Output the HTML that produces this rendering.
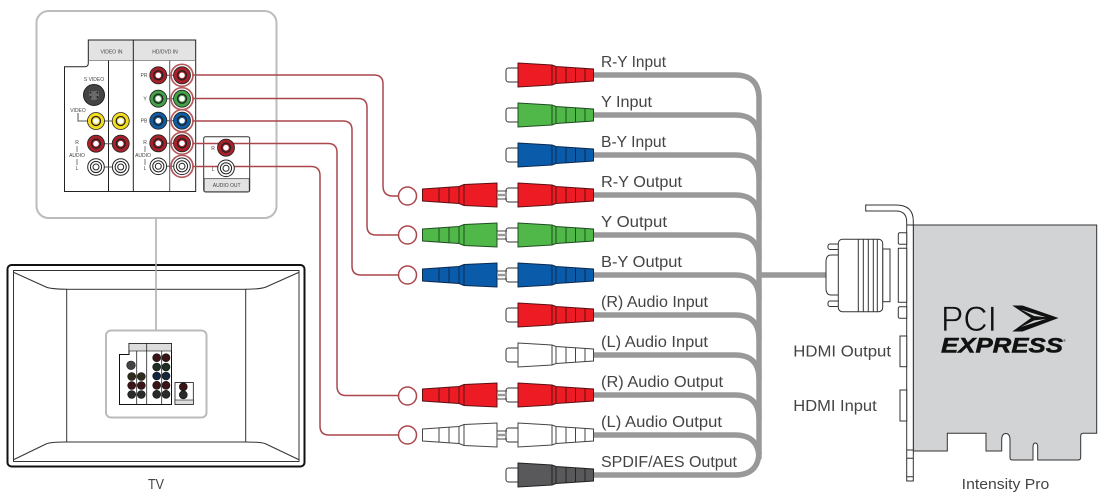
<!DOCTYPE html>
<html><head><meta charset="utf-8"><style>
html,body{margin:0;padding:0;background:#fff}
svg{display:block}
text{font-family:"Liberation Sans",sans-serif}
.l{font-size:16px;fill:#444}
.s{font-size:5px;fill:#444}
</style></head><body>
<svg width="1106" height="504" viewBox="0 0 1106 504" xmlns="http://www.w3.org/2000/svg">
<defs>
<g id="rp">
<rect x="506" y="-7" width="14" height="14" rx="2.500" fill="#fff" stroke="#333" stroke-width="1"/>
<path d="M518 -12L552 -10L556 -8.500L593.500 -6V6L556 8.500L552 10L518 12Z"/>
<path d="M552 -10V10M556 -8.500V8.500M566 -7.800V7.800M575.500 -7V7M585 -6.500V6.500" fill="none"/>
</g>
<g id="lp">
<path d="M422.500 -6L459 -8.500L464 -10.500L497 -12V12L464 10.500L459 8.500L422.500 6Z"/>
<path d="M439 -7V7M449 -7.500V7.500M459 -8.500V8.500M464 -10.500V10.500" fill="none"/>
<path d="M497 -4H507M497 4H507" stroke="#444" fill="none"/>
<path d="M497 0H507" stroke="#999" stroke-width="2.500" fill="none"/>
</g>
<g id="cc"><circle r="8.500" stroke="#222" stroke-width=".8"/><circle r="4.500" fill="none" stroke="#222" stroke-width="1.300"/><circle r="2.800" fill="#fff"/></g>
<g id="cw"><circle r="8.300" fill="#fff" stroke="#222" stroke-width="1"/><circle r="5.600" fill="#fff" stroke="#222" stroke-width="1"/><circle r="3" fill="#fff" stroke="#222" stroke-width="1"/></g>
</defs>

<!-- TV -->
<rect x="7.500" y="265" width="297" height="201.500" rx="4" fill="#fff" stroke="#111" stroke-width="2"/>
<rect x="13.500" y="270.500" width="285.500" height="191" fill="#fff" stroke="#333" stroke-width="1"/>
<rect x="66.700" y="289.300" width="179" height="152.700" fill="#fff" stroke="#333" stroke-width="1"/>
<path d="M14 272.500L46 287Q50 289 66.700 289.300M298.500 272.500L266 287Q262 289 245.700 289.300M14 459.500L46 444Q50 442 66.700 442M298.500 459.500L266 444Q262 442 245.700 442" fill="none" stroke="#333" stroke-width="1"/>
<line x1="156" y1="218" x2="156" y2="331" stroke="#aaa" stroke-width="1.500"/>
<rect x="106" y="330.500" width="100.500" height="87" rx="5" fill="#fff" stroke="#bbb" stroke-width="2"/>

<!-- mini panel -->
<path d="M119.500 404.500V354.500H129V343.500H171.500V404.500Z" fill="#fff" stroke="#111" stroke-width="1"/>
<rect x="129" y="343.500" width="42.500" height="7.500" fill="#ddd" stroke="#111" stroke-width=".6"/>
<path d="M136.700 351V404.500M146.700 343.500V404.500M161.700 351V404.500" stroke="#222" stroke-width=".8"/>
<g stroke="#111" stroke-width=".6">
<circle cx="131" cy="365.300" r="4.300" fill="#444"/>
<circle cx="131.700" cy="376.500" r="4" fill="#2f2c1c"/><circle cx="141.300" cy="376.500" r="4" fill="#2f2c1c"/>
<circle cx="131.700" cy="385.500" r="4" fill="#3a1416"/><circle cx="141.300" cy="385.500" r="4" fill="#3a1416"/>
<circle cx="131.700" cy="394.500" r="4" fill="#2a2a2a"/><circle cx="141.300" cy="394.500" r="4" fill="#2a2a2a"/>
<circle cx="156.700" cy="357.700" r="4" fill="#3a1416"/><circle cx="166" cy="357.700" r="4" fill="#3a1416"/>
<circle cx="156.700" cy="367" r="4" fill="#1e2e22"/><circle cx="166" cy="367" r="4" fill="#1e2e22"/>
<circle cx="156.700" cy="376" r="4" fill="#14263e"/><circle cx="166" cy="376" r="4" fill="#14263e"/>
<circle cx="156.700" cy="385.300" r="4" fill="#3a1416"/><circle cx="166" cy="385.300" r="4" fill="#3a1416"/>
<circle cx="156.700" cy="394.300" r="4" fill="#2a2a2a"/><circle cx="166" cy="394.300" r="4" fill="#2a2a2a"/>
</g>
<rect x="175" y="382.500" width="18.300" height="22" fill="#fff" stroke="#111" stroke-width=".8"/>
<rect x="175" y="400" width="18.300" height="4.500" fill="#ddd" stroke="#111" stroke-width=".6"/>
<circle cx="183.300" cy="386.800" r="4" fill="#3a1416" stroke="#111" stroke-width=".6"/>
<circle cx="183.300" cy="394.800" r="4" fill="#2a2a2a" stroke="#111" stroke-width=".6"/>

<text x="156" y="489" text-anchor="middle" font-size="15" fill="#444" textLength="16" lengthAdjust="spacingAndGlyphs">TV</text>

<!-- large panel -->
<rect x="36.500" y="11" width="240" height="207" rx="12" fill="#fff" stroke="#bcbcbc" stroke-width="2"/>
<path d="M64.500 191.500V66.700H88.300V40H195.700V191.500Z" fill="#fff"/>
<rect x="88.300" y="40" width="107.400" height="20.500" fill="#e3e3e3"/>
<path d="M64.500 191.500V66.700H85Q88.300 66.700 88.300 63V40H195.700V191.500Z" fill="none" stroke="#222" stroke-width="1"/>
<path d="M88.300 60.500H195.700" stroke="#777" stroke-width=".8"/>
<path d="M108.500 60.500V191.500M133.300 40V191.500" stroke="#222" stroke-width="1"/>
<path d="M169.700 60.500V191.500" stroke="#555" stroke-width="1"/>
<path d="M64.500 191.500H195.700" stroke="#222" stroke-width="1"/>
<text class="s" x="111.500" y="53.500" text-anchor="middle">VIDEO IN</text>
<text class="s" x="165" y="53.500" text-anchor="middle">HD/DVD IN</text>

<rect x="203.700" y="136.700" width="46" height="55.300" rx="2" fill="#fff" stroke="#333" stroke-width="1"/>
<rect x="204.200" y="178.700" width="45" height="13" fill="#e3e3e3" stroke="#333" stroke-width=".7"/>
<text class="s" x="226.700" y="187" text-anchor="middle">AUDIO OUT</text>

<!-- wiring between sockets -->
<path d="M96 121H120.700M96 143.700H120.700M96 167H120.700M158.300 75.300H182M158.300 98.700H182M158.300 120.700H182M158.300 143.300H182M158.300 166.300H182M78 113V121H96" stroke="#555" stroke-width="1" fill="none"/>

<!-- sockets -->
<circle cx="94" cy="95" r="10.500" fill="#444" stroke="#222"/>
<path d="M89 91H99V97L96 100H92L89 97Z" fill="#6a6a6a"/>
<circle cx="90.500" cy="92.500" r="1" fill="#222"/><circle cx="97.500" cy="92.500" r="1" fill="#222"/><circle cx="90.500" cy="97" r="1" fill="#222"/><circle cx="97.500" cy="97" r="1" fill="#222"/>
<use href="#cc" x="96" y="121" fill="#f4dd1e"/><use href="#cc" x="120.700" y="121" fill="#f4dd1e"/>
<use href="#cc" x="96" y="143.700" fill="#a8202a"/><use href="#cc" x="120.700" y="143.700" fill="#a8202a"/>
<use href="#cw" x="96" y="167"/><use href="#cw" x="120.700" y="167"/>
<use href="#cc" x="158.300" y="75.300" fill="#a8202a"/><use href="#cc" x="182" y="75.300" fill="#a8202a"/>
<use href="#cc" x="158.300" y="98.700" fill="#45a04a"/><use href="#cc" x="182" y="98.700" fill="#45a04a"/>
<use href="#cc" x="158.300" y="120.700" fill="#0e5ca3"/><use href="#cc" x="182" y="120.700" fill="#0e5ca3"/>
<use href="#cc" x="158.300" y="143.300" fill="#a8202a"/><use href="#cc" x="182" y="143.300" fill="#a8202a"/>
<use href="#cw" x="158.300" y="166.300"/><use href="#cw" x="182" y="166.300"/>

<g fill="none" stroke="#b4595c" stroke-width="1.700">
<circle cx="182" cy="75.300" r="11"/><circle cx="182" cy="98.700" r="11"/><circle cx="182" cy="120.700" r="11"/><circle cx="182" cy="143.300" r="11"/><circle cx="182" cy="166.300" r="11"/>
</g>

<!-- red routes -->
<g fill="none" stroke="#a9474b" stroke-width="1.500">
<path d="M193 75H374Q383 75 383 84V186Q383 196 393 196H399"/>
<path d="M193 98.500H358Q367 98.500 367 107.500V226Q367 235 376 235H398.500"/>
<path d="M193 121H343Q352 121 352 130V266Q352 275 361 275H398.500"/>
<path d="M193 143.500H328Q337 143.500 337 152.500V386Q337 395.500 346 395.500H398.500"/>
<path d="M193 166.500H311Q320 166.500 320 175.500V426Q320 435 329 435H398.500"/>
<circle cx="407.500" cy="196" r="9" fill="#fff"/><circle cx="407.500" cy="235" r="9" fill="#fff"/><circle cx="407.500" cy="275" r="9" fill="#fff"/><circle cx="407.500" cy="396" r="9" fill="#fff"/><circle cx="407.500" cy="435" r="9" fill="#fff"/>
</g>

<use href="#cc" x="226" y="147.700" fill="#a8202a"/>
<use href="#cw" x="226" y="168.300"/>
<text class="s" x="213" y="150" text-anchor="middle">R</text>
<text class="s" x="213" y="171" text-anchor="middle">L</text>
<g class="s" style="font-size:5px" fill="#444" text-anchor="middle">
<text x="94" y="81">S VIDEO</text><text x="78" y="112">VIDEO</text>
<text x="77" y="144">R</text><text x="77" y="157">AUDIO</text><text x="77" y="170">L</text>
<text x="144" y="77">PR</text><text x="145" y="100.500">Y</text><text x="144" y="122.500">PB</text>
<text x="145" y="144">R</text><text x="143" y="157">AUDIO</text><text x="145" y="170">L</text>
</g>
<path d="M77 146V152M77 159V165M145 146V152M145 159V165" stroke="#444" stroke-width=".7"/>

<!-- cables -->
<g fill="none" stroke="#999" stroke-width="5.500">
<path d="M594 75H735Q759 75 759 99V455"/>
<path d="M594 115H735Q759 115 759 139"/>
<path d="M594 155H735Q759 155 759 179"/>
<path d="M594 195H735Q759 195 759 219"/>
<path d="M594 235H735Q759 235 759 259"/>
<path d="M594 275H735Q759 275 759 299"/>
<path d="M594 315H735Q759 315 759 339"/>
<path d="M594 355H735Q759 355 759 379"/>
<path d="M594 395H735Q759 395 759 419"/>
<path d="M594 435H735Q759 435 759 459"/>
<path d="M594 475H735Q759 475 759 451"/>
<path d="M759 275H828"/>
</g>

<!-- plugs -->
<use href="#rp" y="75" fill="#ed1c24" stroke="#5c1014"/>
<use href="#rp" y="115" fill="#4fb848" stroke="#1f4d22"/>
<use href="#rp" y="155" fill="#0a5cab" stroke="#0b2a50"/>
<use href="#rp" y="195" fill="#ed1c24" stroke="#5c1014"/>
<use href="#rp" y="235" fill="#4fb848" stroke="#1f4d22"/>
<use href="#rp" y="275" fill="#0a5cab" stroke="#0b2a50"/>
<use href="#rp" y="315" fill="#ed1c24" stroke="#5c1014"/>
<use href="#rp" y="355" fill="#fff" stroke="#444"/>
<use href="#rp" y="395" fill="#ed1c24" stroke="#5c1014"/>
<use href="#rp" y="435" fill="#fff" stroke="#444"/>
<use href="#rp" y="475" fill="#59595b" stroke="#222"/>
<use href="#lp" y="195" fill="#ed1c24" stroke="#5c1014"/>
<use href="#lp" y="235" fill="#4fb848" stroke="#1f4d22"/>
<use href="#lp" y="275" fill="#0a5cab" stroke="#0b2a50"/>
<use href="#lp" y="395" fill="#ed1c24" stroke="#5c1014"/>
<use href="#lp" y="435" fill="#fff" stroke="#444"/>

<!-- labels -->
<text class="l" x="601" y="67" textLength="65" lengthAdjust="spacingAndGlyphs">R-Y Input</text>
<text class="l" x="601" y="107" textLength="51" lengthAdjust="spacingAndGlyphs">Y Input</text>
<text class="l" x="601" y="147" textLength="65" lengthAdjust="spacingAndGlyphs">B-Y Input</text>
<text class="l" x="601" y="187" textLength="81" lengthAdjust="spacingAndGlyphs">R-Y Output</text>
<text class="l" x="601" y="227" textLength="66" lengthAdjust="spacingAndGlyphs">Y Output</text>
<text class="l" x="601" y="267" textLength="81" lengthAdjust="spacingAndGlyphs">B-Y Output</text>
<text class="l" x="601" y="307" textLength="107" lengthAdjust="spacingAndGlyphs">(R) Audio Input</text>
<text class="l" x="601" y="347" textLength="107" lengthAdjust="spacingAndGlyphs">(L) Audio Input</text>
<text class="l" x="601" y="387" textLength="122" lengthAdjust="spacingAndGlyphs">(R) Audio Output</text>
<text class="l" x="601" y="427" textLength="121" lengthAdjust="spacingAndGlyphs">(L) Audio Output</text>
<text class="l" x="601" y="467" textLength="136" lengthAdjust="spacingAndGlyphs">SPDIF/AES Output</text>
<text class="l" x="793.300" y="356.700" textLength="97.700" lengthAdjust="spacingAndGlyphs">HDMI Output</text>
<text class="l" x="793.300" y="411" textLength="83.400" lengthAdjust="spacingAndGlyphs">HDMI Input</text>
<text x="961.700" y="489" font-size="15" fill="#444" textLength="87.600" lengthAdjust="spacingAndGlyphs">Intensity Pro</text>

<!-- card -->
<path d="M913.300 225H1096.700V433.300H1083Q1080.700 433.300 1080.700 436V457.500Q1080.700 460 1078 460H1037.700V447Q1037.700 443 1035.300 443Q1033 443 1033 447V460H1012.500Q1010 460 1010 457.500V440Q1010 433.500 1005.800 433.500Q1001.700 433.500 1001.700 440V451H986V433.300H947.300V451H913.300Z" fill="#d1d3d4" stroke="#333" stroke-width="1"/>
<path d="M865.700 205H896Q913.300 205 913.300 221V481H906.700V222Q906.700 211 896 211H865.700Z" fill="#fff" stroke="#333" stroke-width="1"/>
<path d="M906.700 225H913.300M906.700 450H913.300M906.700 458.300H913.300M906.700 476.700H913.300" stroke="#333" stroke-width="1"/>
<g fill="#fff" stroke="#333" stroke-width="1">
<path d="M906.700 232.700H900Q898.300 232.700 898.300 234.500V242.500Q898.300 244.300 900 244.300H906.700Z"/>
<path d="M906.700 248.300H898.300V302.300H906.700Z"/>
<path d="M906.700 306.700H900Q898.300 306.700 898.300 308.500V316.500Q898.300 318.300 900 318.300H906.700Z"/>
<rect x="900" y="336" width="6.700" height="30.700"/>
<rect x="900" y="390" width="6.700" height="31"/>
<rect x="882.700" y="249" width="7.300" height="52.700"/>
<rect x="828" y="244" width="11" height="5.500" rx="2"/>
<rect x="828" y="301" width="11" height="5.500" rx="2"/>
<path d="M838.500 255H831Q826 255 826 262V288Q826 295 831 295H838.500Z"/>
<rect x="838.300" y="239.300" width="44.400" height="72.400" rx="4"/>
<path d="M858.300 239.300V311.700M863.300 239.300V311.700M868.300 239.300V311.700M873.300 239.300V311.700M877.300 239.300V311.700" fill="none"/>
</g>

<!-- logo -->
<text x="941" y="331" font-size="35" fill="#111" stroke="#d1d3d4" stroke-width=".7" paint-order="fill stroke" textLength="56" lengthAdjust="spacingAndGlyphs">PCI</text>
<path d="M1012.300 305.500H1022.500L1058.500 318L1022.500 331.500H1012.300L1031 318Z" fill="#111"/>
<path d="M1021 309.500L1046 317.300L1034 316ZM1021 327L1046 318.900L1034 320.500Z" fill="#d1d3d4"/>
<text x="941" y="352.300" font-size="21" font-weight="bold" font-style="italic" fill="#111" stroke="#111" stroke-width=".5" textLength="122" lengthAdjust="spacingAndGlyphs">EXPRESS</text>
<text x="1063" y="342" font-size="4" fill="#333">®</text>
</svg>
</body></html>
